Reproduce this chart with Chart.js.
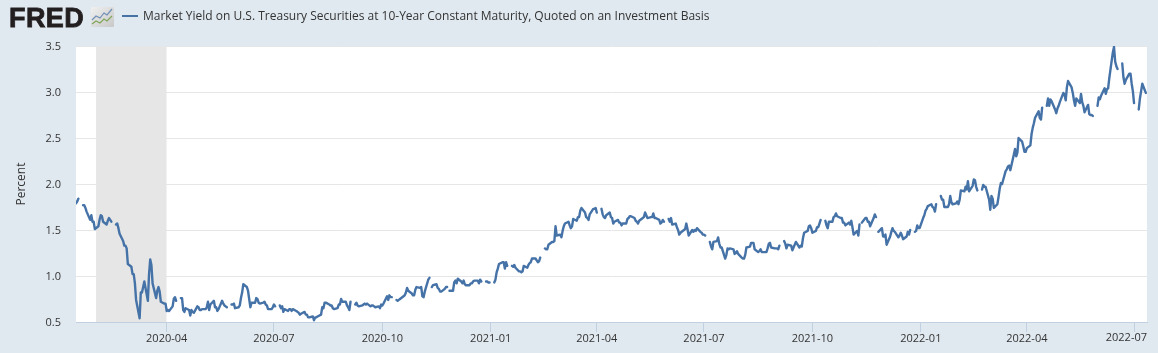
<!DOCTYPE html>
<html>
<head>
<meta charset="utf-8">
<script src="https://cdn.jsdelivr.net/npm/chart.js@4"></script>
<style>
html,body{margin:0;padding:0;background:#e1e9f0;width:1158px;height:353px;overflow:hidden}
#c{position:absolute;left:0;top:0}
.logo{position:absolute;left:9px;top:0;font:900 27px/36px "Liberation Sans",Arimo,sans-serif;color:#231f20;letter-spacing:.4px;-webkit-text-stroke:.8px #231f20}
.icon{position:absolute;left:91px;top:7px}
.sw{position:absolute;left:122px;top:15px;width:16px;height:2px;background:#4572a7}
.lg{position:absolute;left:143px;top:8px;font:12px/16px "Open Sans",sans-serif;color:#333;white-space:nowrap}
</style>
</head>
<body>
<canvas id="c" width="1158" height="353"></canvas>
<div class="logo">FRED</div>
<svg class="icon" width="23" height="20" viewBox="0 0 23 20">
<defs><linearGradient id="g" x1="0" y1="0" x2="1" y2="1"><stop offset="0" stop-color="#f0f0f0"/><stop offset="1" stop-color="#c8c8c8"/></linearGradient></defs>
<rect width="23" height="20" rx="1" fill="url(#g)"/>
<polyline points="1,13 5,9 9,11 13,6 16,8 21,2" fill="none" stroke="#6f8fb5" stroke-width="1.2"/>
<polyline points="1,17 5,14 9,16 13,12 16,14 21,9" fill="none" stroke="#7fa65a" stroke-width="1.2"/>
</svg>
<div class="sw"></div>
<div class="lg">Market Yield on U.S. Treasury Securities at 10-Year Constant Maturity, Quoted on an Investment Basis</div>
<script>
const seriesName = 'Market Yield on U.S. Treasury Securities at 10-Year Constant Maturity, Quoted on an Investment Basis';
const firstDate = '2020-01-15';   // a Wednesday; one value per weekday, null on market holidays
const yields = [
1.79,1.81,1.84,
null,1.77,1.77,1.74,1.70,
1.61,1.66,1.59,1.59,1.51,
1.54,1.61,1.66,1.65,1.59,
1.56,1.60,1.63,1.61,1.59,
null,1.56,1.57,1.52,1.46,
1.38,1.33,1.33,1.30,1.13,
1.10,1.02,1.02,0.92,0.74,
0.54,0.82,0.82,0.88,0.94,
0.73,1.02,1.18,1.12,0.92,
0.76,0.84,0.88,0.83,0.72,
0.70,0.70,0.62,0.63,0.62,
0.67,0.75,0.77,0.73,null,
0.76,0.76,0.63,0.61,0.65,
0.63,0.57,0.63,0.61,0.60,
0.67,0.66,0.63,0.63,0.64,
0.64,0.66,0.72,0.63,0.69,
0.73,0.66,0.66,0.62,0.64,
0.73,0.70,0.68,0.67,0.66,
null,0.69,0.69,0.70,0.65,
0.66,0.68,0.76,0.82,0.91,
0.88,0.84,0.75,0.66,0.71,
0.71,0.76,0.75,0.71,0.70,
0.71,0.72,0.69,0.68,0.64,
0.64,0.66,0.69,0.67,null,
0.68,0.65,0.67,0.61,0.64,
0.62,0.64,0.64,0.62,0.64,
0.62,0.61,0.60,0.58,0.59,
0.61,0.58,0.58,0.55,0.55,
0.56,0.52,0.55,0.55,0.56,
0.58,0.66,0.65,0.71,0.71,
0.69,0.68,0.68,0.65,0.64,
0.65,0.69,0.69,0.75,0.72,
0.72,0.68,0.66,0.63,0.72,
null,0.69,0.71,0.68,0.67,
0.68,0.69,0.70,0.69,0.70,
0.67,0.68,0.68,0.67,0.66,
0.67,0.65,0.69,0.68,0.70,
0.78,0.74,0.79,0.77,0.77,
null,0.74,0.73,0.74,0.75,
0.78,0.79,0.82,0.87,0.84,
0.81,0.79,0.79,0.85,0.88,
0.87,0.88,0.78,0.77,0.83,
0.96,0.98,null,0.88,0.90,
0.91,0.87,0.86,0.83,0.83,
0.86,0.88,0.88,null,0.84,
0.84,0.93,0.95,0.92,0.97,
0.94,0.92,0.95,0.91,0.90,
0.90,0.92,0.92,0.94,0.95,
0.95,0.92,0.96,0.94,null,
0.94,0.94,0.93,0.93,null,
0.93,0.96,1.04,1.08,1.13,
1.15,1.15,1.08,1.15,1.11,
null,1.11,1.10,1.12,1.09,
1.05,1.05,1.04,1.05,1.11,
1.09,1.12,1.14,1.15,1.19,
1.19,1.17,1.15,1.16,1.20,
null,1.30,1.29,1.29,1.34,
1.37,1.37,1.38,1.54,1.44,
1.45,1.42,1.49,1.54,1.57,
1.59,1.55,1.52,1.54,1.62,
1.60,1.64,1.64,1.71,1.74,
1.69,1.64,1.63,1.61,1.67,
1.73,1.73,1.74,1.69,null,
1.73,1.67,1.64,1.63,1.66,
1.69,1.64,1.63,1.57,1.59,
1.61,1.58,1.58,1.55,1.57,
1.57,1.62,1.63,1.65,1.65,
1.63,1.60,1.59,1.57,1.60,
1.63,1.64,1.69,1.66,1.63,
1.64,1.64,1.68,1.63,1.63,
1.61,1.57,1.58,1.61,1.59,
null,1.62,1.59,1.63,1.56,
1.57,1.53,1.50,1.45,1.47,
1.50,1.51,1.57,1.51,1.44,
1.50,1.48,1.50,1.49,1.52,
1.48,1.47,1.45,1.45,1.44,
null,1.37,1.32,1.29,1.37,
1.38,1.42,1.35,1.31,1.31,
1.19,1.23,1.30,1.29,1.30,
1.29,1.24,1.25,1.27,1.24,
1.20,1.19,1.19,1.23,1.31,
1.32,1.36,1.36,1.36,1.29,
1.26,1.27,1.29,1.26,1.26,
1.26,1.30,1.35,1.36,1.31,
1.30,1.30,1.30,1.29,1.33,
null,1.38,1.35,1.30,1.34,
1.33,1.28,1.31,1.34,1.37,
1.31,1.33,1.32,1.41,1.47,
1.49,1.54,1.55,1.52,1.47,
1.49,1.53,1.53,1.57,1.61,
null,1.60,1.55,1.52,1.59,
1.59,1.64,1.65,1.68,1.65,
1.63,1.63,1.58,1.58,1.55,
1.58,1.56,1.60,1.53,1.45,
1.49,1.44,1.56,null,1.58,
1.63,1.63,1.59,1.59,1.54,
1.63,1.67,1.64,null,1.48,
1.52,1.43,1.43,1.45,1.34,
1.43,1.48,1.52,1.49,1.48,
1.42,1.44,1.47,1.44,1.40,
1.43,1.48,1.45,1.50,null,
1.48,1.49,1.55,1.52,1.52,
1.63,1.66,1.71,1.73,1.76,
1.78,1.75,1.74,1.70,1.78,
null,1.87,1.83,1.83,1.75,
1.75,1.78,1.87,1.80,1.78,
1.79,1.81,1.78,1.83,1.93,
1.92,1.97,1.94,2.03,1.92,
1.98,2.05,2.04,1.97,1.93,
null,1.94,1.99,1.97,1.97,
1.83,1.72,1.87,1.84,1.74,
1.78,1.86,1.95,2.01,2.00,
2.14,2.16,2.19,2.20,2.15,
2.32,2.38,2.30,2.34,2.50,
2.46,2.41,2.35,2.35,2.39,
2.42,2.54,2.61,2.66,2.72,
2.79,2.72,2.70,2.83,null,
2.85,2.93,2.85,2.92,2.90,
2.81,2.77,2.82,2.85,2.89,
2.99,2.97,2.91,3.05,3.12,
3.05,2.99,2.91,2.85,2.93,
2.88,2.98,2.89,2.85,2.78,
2.86,2.76,2.75,2.75,2.74,
null,2.85,2.94,2.92,2.96,
3.04,2.98,3.03,3.04,3.15,
3.43,3.49,3.33,3.28,3.25,
null,3.31,3.16,3.09,3.13,
3.20,3.20,3.09,3.01,2.88,
null,2.81,2.93,3.01,3.09,
2.99
];
const recession = ['2020-02-01', '2020-04-01'];
const tickLabels = ['2020-04','2020-07','2020-10','2021-01','2021-04','2021-07','2021-10','2022-01','2022-04','2022-07'];
const yTicks = [0.5,1.0,1.5,2.0,2.5,3.0,3.5];
const xRange = ['2020-01-15','2022-07-12'];

const ts = s => { const [y,m,d] = s.split('-').map(Number); return Date.UTC(y,m-1,d||1); };
const DAY = 86400000;
const points = [];
let t = ts(firstDate);
for (const v of yields) {
  points.push({x:t, y:v});
  t += DAY;
  while ([0,6].includes(new Date(t).getUTCDay())) t += DAY;
}
const tickMap = new Map(tickLabels.map(l => [ts(l), l]));
const lastTick = tickLabels[tickLabels.length-1];
const FONT = '"Open Sans", sans-serif';

const plotBackground = {
  id:'plotBackground',
  beforeDraw(ch){
    const a = ch.chartArea;
    ch.ctx.save();
    ch.ctx.fillStyle = '#ffffff';
    ch.ctx.fillRect(a.left, a.top, a.width, a.height);
    ch.ctx.restore();
  },
  afterDraw(ch){
    // the last x label is kept inside the plot's right edge, as in the reference
    const a = ch.chartArea, s = ch.scales.x, c = ch.ctx;
    c.save();
    c.font = '11px ' + FONT;
    c.fillStyle = '#333';
    c.textAlign = 'right';
    c.textBaseline = 'middle';
    c.fillText(lastTick, a.right, s.top + 16);
    c.restore();
  }
};

new Chart(document.getElementById('c'), {
  type: 'line',
  plugins: [plotBackground],
  data: { datasets: [
    { label: seriesName, data: points, borderColor:'#4572a7', borderWidth:2.4, pointRadius:0, tension:0, spanGaps:false, fill:false, order:1, borderJoinStyle:'round', borderCapStyle:'round' },
    { label: 'Recession', data: recession.map(d => ({x:ts(d), y:yTicks[yTicks.length-1]})), borderWidth:0, borderColor:'rgba(0,0,0,0)', backgroundColor:'#e6e6e6', pointRadius:0, fill:'start', order:2 }
  ]},
  options: {
    responsive:false, animation:false, events:[],
    layout:{ padding:{ left:0, top:46, right:11, bottom:0 } },
    plugins:{ legend:{display:false}, tooltip:{enabled:false} },
    scales:{
      x:{ type:'linear', min:ts(xRange[0]), max:ts(xRange[1]),
        afterBuildTicks: a => { a.ticks = [...tickMap.keys()].map(v => ({value:v})); },
        afterFit: a => { a.height = 31; },
        grid:{ drawOnChartArea:false, drawTicks:true, tickLength:10, color:'#c0d0e0', tickColor:'#c0d0e0' },
        border:{ color:'#c0d0e0', width:1 },
        ticks:{ autoSkip:false, maxRotation:0, padding:0, color:'#333', font:{family:FONT,size:11},
                callback:v => { const l = tickMap.get(v); return l === lastTick ? '' : (l ?? ''); } }
      },
      y:{ type:'linear', min:0.5, max:3.5,
        afterBuildTicks: a => { a.ticks = yTicks.map(v => ({value:v})); },
        afterFit: a => { a.width = 76; },
        grid:{ color:'#e6e6e6', drawTicks:false, lineWidth:1 },
        border:{ display:false },
        ticks:{ padding:15, labelOffset:1, color:'#333', font:{family:FONT,size:11}, callback:v => v.toFixed(1) },
        title:{ display:true, text:'Percent', color:'#333', font:{family:FONT,size:12}, padding:{top:14,bottom:0} }
      }
    }
  }
});
</script>
</body>
</html>
